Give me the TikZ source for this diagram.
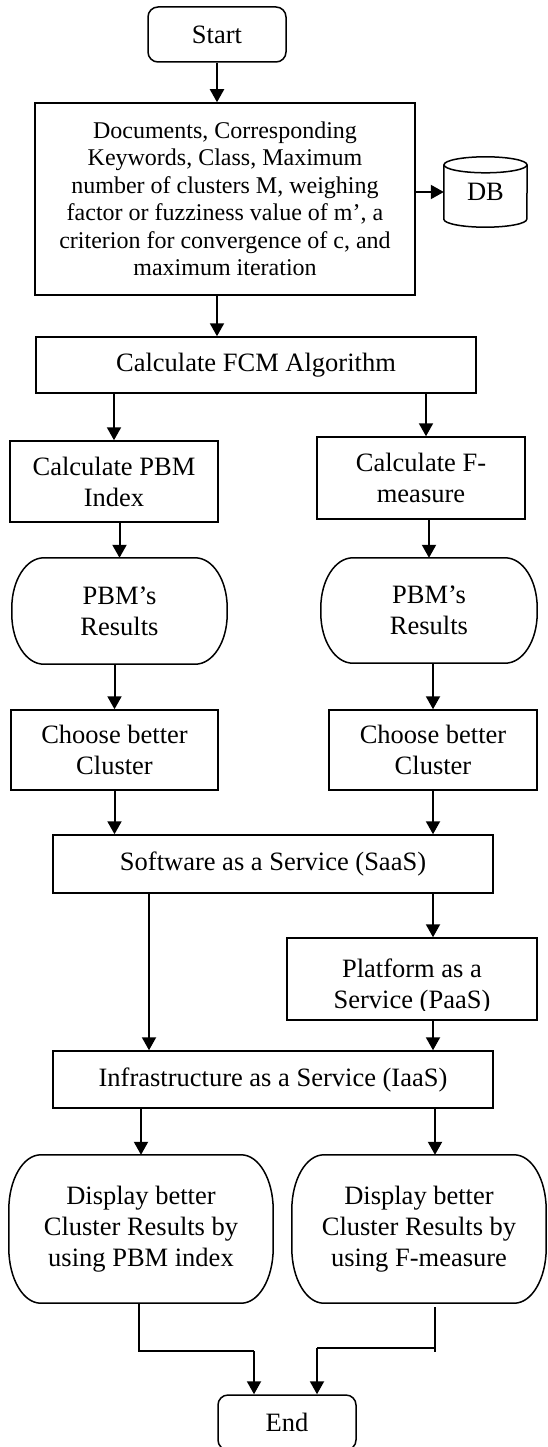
\documentclass[tikz,border=0pt]{standalone}
\usepackage{fontspec}
\setmainfont{Liberation Serif}
\usetikzlibrary{arrows.meta}

% frame with elliptic corners around a node: name, x radius, y radius
\newcommand{\ovalframe}[3]{%
  \draw[boxline] ([xshift=#2]#1.north west) -- ([xshift=-#2]#1.north east)
    arc[start angle=90, end angle=0, x radius=#2, y radius=#3]
    -- ([yshift=#3]#1.south east)
    arc[start angle=0, end angle=-90, x radius=#2, y radius=#3]
    -- ([xshift=#2]#1.south west)
    arc[start angle=-90, end angle=-180, x radius=#2, y radius=#3]
    -- ([yshift=-#3]#1.north west)
    arc[start angle=180, end angle=90, x radius=#2, y radius=#3] -- cycle;}

\begin{document}
\begin{tikzpicture}[x=1pt,y=1pt,
  every node/.style={font=\fontsize{26.5}{31}\selectfont,align=center,inner sep=0pt},
  box/.style={draw,line width=1.5pt},
  boxline/.style={line width=1.5pt},
  link/.style={line width=1.2pt},
  arrow/.style={line width=2pt,-{Triangle[length=13pt,width=14pt]}}]
\useasboundingbox (0,0) rectangle (548,-1447);

\node[box,rounded corners=10pt,minimum width=138pt,minimum height=55pt] (start) at (217,-34.5) {Start};
\node[box,minimum width=380pt,minimum height=192pt,font=\fontsize{24}{27.5}\selectfont] (input) at (225,-199)
  {Documents, Corresponding\\Keywords, Class, Maximum\\number of clusters M, weighing\\factor or fuzziness value of m’, a\\criterion for convergence of c, and\\maximum iteration};
\node[minimum width=83pt,minimum height=70pt] (db) at (485.5,-192) {DB};
\draw[boxline] ([yshift=-8pt]db.north west) -- ([yshift=8pt]db.south west)
  arc[start angle=180, end angle=360, x radius=41.5pt, y radius=8pt] -- ([yshift=-8pt]db.north east);
\draw[boxline] ([yshift=-8pt]db.north) ellipse [x radius=41.5pt, y radius=8pt];

\node[box,minimum width=440pt,minimum height=56pt] (fcm) at (256,-365) {Calculate FCM Algorithm};
\node[box,minimum width=208pt,minimum height=81pt] (pbm) at (114,-481.5) {Calculate PBM\\Index};
\node[box,minimum width=208pt,minimum height=82pt] (fm) at (421,-478) {Calculate F-\\measure};

\node[minimum width=215pt,minimum height=106pt] (res1) at (119.5,-611) {PBM’s\\Results};
\node[minimum width=216pt,minimum height=105pt] (res2) at (429,-610.5) {PBM’s\\Results};
\ovalframe{res1}{32pt}{50pt}
\ovalframe{res2}{32pt}{50pt}

\node[box,minimum width=207pt,minimum height=80pt] (ch1) at (114.5,-750) {Choose better\\Cluster};
\node[box,minimum width=208pt,minimum height=80pt] (ch2) at (433,-750) {Choose better\\Cluster};

\node[box,minimum width=440pt,minimum height=58pt] (saas) at (273,-864) {Software as a Service (SaaS)};
\node[box,minimum width=250pt,minimum height=82pt] (paas) at (412,-979) {};
\begin{scope}
  \clip ([yshift=10pt]paas.south west) rectangle (paas.north east);
  \node (paastext) at ([yshift=-7pt]paas.center) {Platform as a\\Service (PaaS)};
\end{scope}
\node[box,minimum width=440pt,minimum height=57pt] (iaas) at (273,-1079.5) {Infrastructure as a Service (IaaS)};

\node[minimum width=264pt,minimum height=148pt] (dis1) at (141,-1229) {Display better\\Cluster Results by\\using PBM index};
\node[minimum width=254pt,minimum height=148pt] (dis2) at (419,-1229) {Display better\\Cluster Results by\\using F-measure};
\ovalframe{dis1}{32pt}{55pt}
\ovalframe{dis2}{32pt}{55pt}

\node[box,rounded corners=10pt,minimum width=138pt,minimum height=55pt] (end) at (287,-1422.5) {End};

\draw[arrow] (start.south) -- (start.south |- input.north);
\draw[arrow] (db.west -| input.east) -- (db.west);
\draw[arrow] (start.south |- input.south) -- (start.south |- fcm.north);
\draw[arrow] (pbm.north |- fcm.south) -- (pbm.north);
\draw[arrow] ([xshift=5pt]fm.north |- fcm.south) -- ([xshift=5pt]fm.north);
\draw[arrow] (res1.north |- pbm.south) -- (res1.north);
\draw[arrow] (res2.north |- fm.south) -- (res2.north);
\draw[arrow] (ch1.north |- res1.south) -- (ch1.north);
\draw[arrow] (ch2.north |- res2.south) -- (ch2.north);
\draw[arrow] (ch1.south) -- (ch1.south |- saas.north);
\draw[arrow] (ch2.south) -- (ch2.south |- saas.north);
\draw[arrow] ([xshift=-124pt]saas.south) -- ([xshift=-124pt]saas.south |- iaas.north);
\draw[arrow] (ch2.south |- saas.south) -- (ch2.south |- paas.north);
\draw[arrow] (ch2.south |- paas.south) -- (ch2.south |- iaas.north);
\draw[arrow] (dis1.north |- iaas.south) -- (dis1.north);
\draw[arrow] ([xshift=16pt]dis2.north |- iaas.south) -- ([xshift=16pt]dis2.north);

\coordinate (jl) at (254,-1351);
\coordinate (jr) at (317,-1348);
\draw[link] ([xshift=-2pt]dis1.south) |- (jl);
\draw[link] ([xshift=16pt,yshift=-4pt]dis2.south) -- ++(0,-45);
\draw[link] (jr) -- ++(118,0);
\draw[arrow] (jl) -- (jl |- end.north);
\draw[arrow] (jr) -- (jr |- end.north);
\end{tikzpicture}
\end{document}
